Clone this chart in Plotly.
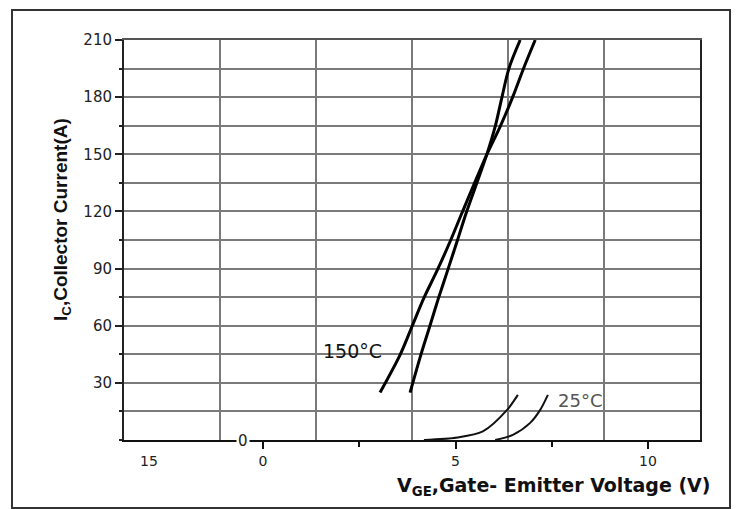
import plotly.graph_objects as go

# ---- data ----
# upper (main) part of the curves, VGE in volts vs. IC in amps
vge_150 = [3.04, 3.56, 3.87, 4.18, 4.53, 4.86, 5.17, 5.81, 6.16, 6.49, 6.77, 7.07]
ic_150 = [24.9, 44.7, 59.6, 74.6, 89.3, 104.2, 119.3, 149.7, 164.5, 180.3, 195.2, 210.0]
vge_25 = [3.82, 4.10, 4.33, 4.56, 4.80, 5.04, 5.28, 5.81, 6.03, 6.21, 6.39, 6.68]
ic_25 = [24.9, 44.7, 59.6, 74.6, 89.3, 104.2, 119.3, 149.7, 164.5, 180.3, 195.2, 210.0]
# lower fragments of the curves visible near the x axis
vge_150_low = [4.18, 5.05, 5.71, 6.34, 6.62]
ic_150_low = [0.0, 1.3, 4.5, 15.8, 23.7]
vge_25_low = [6.03, 6.49, 6.94, 7.20, 7.40]
ic_25_low = [0.0, 2.7, 9.0, 15.8, 23.7]

x_ticks = [0, 5, 10]
x_minor_ticks = [2.5, 7.5]
y_ticks = [30, 60, 90, 120, 150, 180, 210]
y_tick_text = ["30", "60", "90", "120", "150", "180", "210"]

FONT = "DejaVu Sans, sans-serif"
TITLE_FONT = "Arial, Liberation Sans, sans-serif"

fig = go.Figure()
fig.add_trace(go.Scatter(x=vge_150, y=ic_150, mode="lines",
                         line=dict(color="black", width=3, shape="spline", smoothing=0.9),
                         name="150°C", showlegend=False))
fig.add_trace(go.Scatter(x=vge_25, y=ic_25, mode="lines",
                         line=dict(color="black", width=3, shape="spline", smoothing=0.9),
                         name="25°C", showlegend=False))
fig.add_trace(go.Scatter(x=vge_150_low, y=ic_150_low, mode="lines",
                         line=dict(color="#111", width=2, shape="spline", smoothing=0.8),
                         showlegend=False))
fig.add_trace(go.Scatter(x=vge_25_low, y=ic_25_low, mode="lines",
                         line=dict(color="#111", width=2, shape="spline", smoothing=0.8),
                         showlegend=False))
# empty trace so the grid axis is drawn
fig.add_trace(go.Scatter(x=[], y=[], xaxis="x2", showlegend=False, hoverinfo="skip"))

left_px, right_px = 124, 700
zero_px, px_per_v = 263, 38.5
x_range = [(left_px - zero_px) / px_per_v, (right_px - zero_px) / px_per_v]


def px_x(px):
    return (px - 124) / 576


def px_y(py):
    return (440 - py) / 400


fig.update_layout(
    width=731, height=501,
    margin=dict(l=116, r=39, t=32, b=69),
    paper_bgcolor="white", plot_bgcolor="white",
    font=dict(family=FONT, size=15, color="#222"),
    xaxis=dict(range=x_range, tickvals=x_ticks, ticks="outside", ticklen=7, tickwidth=2,
               tickcolor="#111", showgrid=False, zeroline=False, showline=True,
               linecolor="#111", linewidth=2,
               minor=dict(tickvals=x_minor_ticks, ticks="outside", ticklen=5, tickwidth=2,
                          tickcolor="#111", showgrid=False),
               tickfont=dict(family=FONT, size=14, color="#222")),
    xaxis2=dict(overlaying="x", side="top", range=[0, 12], tick0=0, dtick=2,
                showgrid=True, gridcolor="#7a7a7a", gridwidth=1.5,
                showticklabels=False, ticks="", zeroline=False,
                showline=True, linecolor="#555", linewidth=2),
    yaxis=dict(range=[0, 210], tickvals=y_ticks, ticktext=y_tick_text, ticks="outside",
               ticklen=7, tickwidth=1.5, tickcolor="#222",
               showgrid=True, gridcolor="#7a7a7a", gridwidth=1.5, zeroline=False,
               showline=True, linecolor="#222", linewidth=2, mirror=True,
               minor=dict(dtick=15, tick0=0, showgrid=True, gridcolor="#7a7a7a", gridwidth=1.5,
                          ticks="outside", ticklen=3, tickcolor="#222"),
               tickfont=dict(family=FONT, size=15, color="#222")),
    annotations=[
        dict(text="<b>I<sub>C</sub>,Collector Current(A)</b>", xref="paper", yref="paper",
             x=px_x(62), y=px_y(220), textangle=-90, showarrow=False,
             font=dict(family=TITLE_FONT, size=19, color="#111"), xanchor="center", yanchor="middle"),
        dict(text="<b>V<sub>GE</sub>,Gate- Emitter Voltage (V)</b>", xref="paper", yref="paper",
             x=px_x(712), y=px_y(486), showarrow=False,
             font=dict(family=FONT, size=19, color="#111"), xanchor="right", yanchor="middle"),
        dict(text="150°C", xref="paper", yref="paper",
             x=px_x(352), y=px_y(351), showarrow=False,
             font=dict(family=FONT, size=19, color="#111"), xanchor="center", yanchor="middle"),
        dict(text="25°C", xref="paper", yref="paper",
             x=px_x(580), y=px_y(400), showarrow=False,
             font=dict(family=FONT, size=18, color="#555"), xanchor="center", yanchor="middle"),
        dict(text="0", xref="paper", yref="paper", bgcolor="white",
             x=px_x(243), y=px_y(441), showarrow=False,
             font=dict(family=FONT, size=15, color="#222"), xanchor="center", yanchor="middle"),
        dict(text="15", xref="paper", yref="paper",
             x=px_x(149), y=px_y(461), showarrow=False,
             font=dict(family=FONT, size=14, color="#222"), xanchor="center", yanchor="middle"),
    ],
    shapes=[
        dict(type="rect", xref="paper", yref="paper",
             x0=px_x(12), x1=px_x(730), y0=px_y(508), y1=px_y(10),
             line=dict(color="#333", width=2), fillcolor="rgba(0,0,0,0)", layer="below"),
    ],
)

fig.write_html("out.html")
